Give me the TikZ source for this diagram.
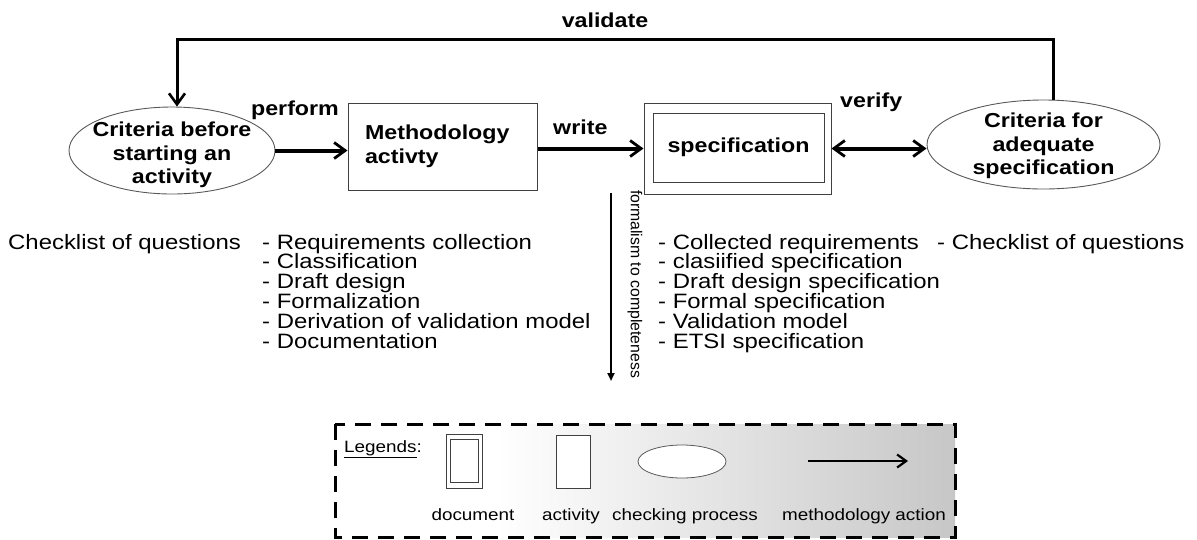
\documentclass[tikz,border=0pt]{standalone}
\usepackage{fontspec}
\setmainfont{Liberation Sans}[FakeStretch=1.15]
\newfontfamily\vertfont{Liberation Sans}
\usetikzlibrary{shapes.geometric,arrows.meta,calc}
\pgfdeclarehorizontalshading{legshade}{100bp}{color(0bp)=(white); color(25bp)=(white); color(38bp)=(white); color(75bp)=(black!22); color(100bp)=(black!22)}
\begin{document}
\begin{tikzpicture}[x=1pt,y=-1pt,
  boldtxt/.style={font=\fontsize{20.2}{23.5}\selectfont\bfseries, inner sep=0pt},
  listtxt/.style={font=\fontsize{20.8}{19.8}\selectfont, inner sep=0pt, anchor=base west},
  legtxt/.style={font=\fontsize{16.4}{19}\selectfont, inner sep=0pt, anchor=base},
  chkell/.style={ellipse, draw=black!65, line width=0.9pt, fill=white, inner sep=0pt},
  actbox/.style={rectangle, draw=black!75, line width=1pt, fill=white, inner sep=0pt},
  bigarrow/.style={line width=4pt, -{Straight Barb[length=11pt,width=16pt,line width=2.8pt]}},
  dblarrow/.style={line width=4pt, {Straight Barb[length=11pt,width=16pt,line width=2.8pt]}-{Straight Barb[length=11pt,width=16pt,line width=2.8pt]}},
  fbline/.style={line width=3pt, -{Straight Barb[length=11pt,width=16pt,line width=2.6pt]}},
  thinarrow/.style={line width=2.2pt, -{Triangle[length=8pt,width=7pt]}},
  legarrow/.style={line width=2.4pt, -{Straight Barb[length=9pt,width=13pt,line width=2.2pt]}}
]
\useasboundingbox (0,0) rectangle (1197,539);

% main nodes
\node[chkell, minimum width=206pt, minimum height=87pt] (e1) at (172,150.5) {};
\node[boldtxt, align=center] (e1t) at (172,155.2) {Criteria before\\starting an\\activity};

\node[actbox, minimum width=189pt, minimum height=87pt, align=left, text width=155pt, inner xsep=17pt,
      font=\fontsize{20.2}{23.5}\selectfont\bfseries] (meth) at (442.5,146.5) {Methodology\\activty};

\node[actbox, minimum width=187pt, minimum height=91pt] (spec) at (737.5,148.5) {};
\node[actbox, minimum width=171pt, minimum height=69pt, font=\fontsize{20.2}{23.5}\selectfont\bfseries] (specin) at (738.5,147.5) {specification};

\node[chkell, minimum width=233pt, minimum height=89pt] (e2) at (1043.5,144.5) {};
\node[boldtxt, align=center] (e2t) at (1043.5,146.2) {Criteria for\\adequate\\specification};

% connectors
\draw[bigarrow] (e1.east) -- (e1.east -| meth.west);
\draw[bigarrow] (meth.east |- spec.west) -- (spec.west);
\draw[dblarrow] (spec.east) -- (spec.east -| e2.west);

\coordinate (fbR) at ([xshift=10pt]e2.north);
\coordinate (fbL) at ([xshift=5pt]e1.north);
\coordinate (fbTop) at (0,39);
\draw[fbline] (fbR) |- (fbL |- fbTop) -- (fbL);

% labels
\node[boldtxt, anchor=base] (lvalidate) at (605,27) {validate};
\node[boldtxt, anchor=base] (lperform) at (295,115) {perform};
\node[boldtxt, anchor=base west] (lwrite) at (553,134) {write};
\node[boldtxt, anchor=base west] (lverify) at (840,107) {verify};

% formalism arrow
\coordinate (fa1) at (611,193);
\coordinate (fa2) at (611,381);
\draw[thinarrow] (fa1) -- (fa2);
\node[font=\vertfont\fontsize{15.8}{18}\selectfont, rotate=-90, inner sep=0pt] (lformal) at (635,284) {formalism to completeness};

% lists
\node[listtxt] (chkL) at (8,249) {Checklist of questions};
\foreach \t [count=\i] in {Requirements collection,Classification,Draft design,Formalization,Derivation of validation model,Documentation}
  \node[listtxt] (la\i) at (262,{249+19.8*(\i-1)}) {- \t};
\foreach \t [count=\i] in {Collected requirements,clasiified specification,Draft design specification,Formal specification,Validation model,ETSI specification}
  \node[listtxt] (lb\i) at (658,{249+19.8*(\i-1)}) {- \t};
\node[listtxt] (chkR) at (937,249) {- Checklist of questions};

% legend
\path[shading=legshade] (335,424) rectangle (955,537);
\draw[line width=3pt, dash pattern=on 16pt off 10pt] (335,424) rectangle (955,537);
\node[legtxt, anchor=base west] (lleg) at (344,452) {\underline{Legends}:};
\node[actbox, line width=0.8pt, minimum width=36pt, minimum height=54pt] (ldoc) at (464,461) {};
\node[actbox, line width=0.8pt, minimum width=28pt, minimum height=43pt] (ldocin) at (464,460.5) {};
\node[actbox, line width=0.8pt, minimum width=34pt, minimum height=53pt] (lact) at (573,461.5) {};
\node[chkell, line width=0.8pt, minimum width=88pt, minimum height=33pt] (lell) at (682,461.5) {};
\coordinate (lar1) at (808,461);
\coordinate (lar2) at (908,461);
\draw[legarrow] (lar1) -- (lar2);
\node[legtxt] (tdoc) at (473,520) {document};
\node[legtxt] (tact) at (571,520) {activity};
\node[legtxt] (tchk) at (685,520) {checking process};
\node[legtxt] (tmeth) at (864,520) {methodology action};
\end{tikzpicture}
\end{document}
